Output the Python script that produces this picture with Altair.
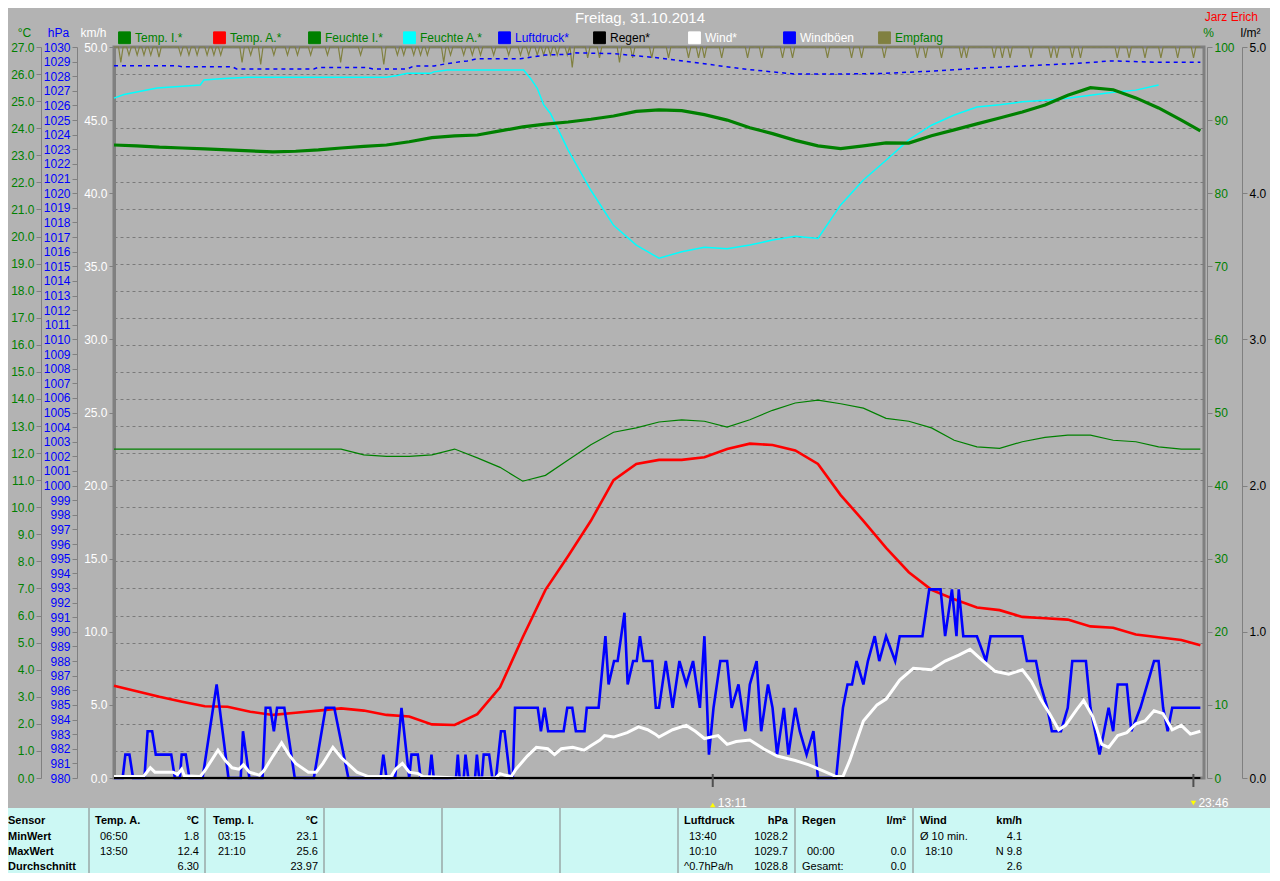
import altair as alt
import pandas as pd

FONT = "Liberation Sans"
BG = "#b3b3b3"
GRID = "#7a7a7a"
FRAME = "#808080"
CYAN_BG = "#ccf8f4"

W, H = 1090, 731
PAD = {"left": 106, "top": 39, "right": 66, "bottom": 95}
PX0, PY0 = 114, 47  # page position of the plot's top-left corner

# ---------------- values ----------------
chart_title = "Freitag, 31.10.2014"
owner_name = "Jarz Erich"

series_names = ["Temp. I.*", "Temp. A.*", "Feuchte I.*", "Feuchte A.*", "Luftdruck*",
                "Regen*", "Wind*", "Windböen", "Empfang"]
series_colors = ["#008000", "#ff0000", "#008000", "#00ffff", "#0000ff",
                 "#000000", "#ffffff", "#0000ff", "#808040"]
legend_label_colors = ["#008000", "#008000", "#008000", "#008000", "#0000ff",
                       "#000000", "#ffffff", "#ffffff", "#008000"]

# half-hourly readings (hour of day)
t_half = [i / 2 for i in range(48)] + [23.92]
temp_i = [23.38, 23.35, 23.3, 23.27, 23.24, 23.2, 23.16, 23.13, 23.15, 23.2, 23.27, 23.33,
          23.38, 23.5, 23.65, 23.72, 23.75, 23.9, 24.05, 24.15, 24.23, 24.33, 24.45, 24.62,
          24.68, 24.65, 24.5, 24.3, 24.02, 23.8, 23.55, 23.35, 23.25, 23.35, 23.46, 23.45,
          23.72, 23.94, 24.16, 24.38, 24.6, 24.86, 25.22, 25.5, 25.42, 25.12, 24.75, 24.3, 23.9]
temp_a = [3.41, 3.2, 3.0, 2.82, 2.65, 2.63, 2.45, 2.33, 2.41, 2.49, 2.57, 2.49,
          2.33, 2.27, 1.98, 1.96, 2.36, 3.35, 5.2, 6.95, 8.2, 9.5, 11.0, 11.6,
          11.75, 11.75, 11.85, 12.15, 12.35, 12.3, 12.1, 11.6, 10.45, 9.5, 8.5, 7.6,
          6.95, 6.6, 6.3, 6.2, 5.95, 5.9, 5.85, 5.6, 5.55, 5.3, 5.2, 5.1, 4.9]
hum_i = [45, 45, 45, 45, 45, 45, 45, 45, 45, 45, 45, 44.2, 44, 44, 44.2, 45, 43.8, 42.5,
         40.6, 41.4, 43.5, 45.6, 47.3, 47.9, 48.7, 49.0, 48.8, 48.0, 49.0, 50.3, 51.3, 51.7,
         51.2, 50.6, 49.2, 48.8, 47.9, 46.2, 45.3, 45.1, 46.0, 46.6, 46.9, 46.9, 46.2, 46.0,
         45.3, 45.0, 45.0]

hum_a_t = [0, 0.22, 0.95, 1.9, 1.98, 2.42, 2.95, 6.0, 6.24, 6.46,
           6.97, 7.04, 7.34, 9.02, 9.17, 9.32, 9.46, 9.61, 10.0, 10.5,
           11, 11.5, 12, 12.5, 13, 13.5, 14, 14.5, 15, 15.5,
           16, 16.5, 17, 17.5, 18, 18.5, 19, 19.5, 20, 20.5,
           21, 21.5, 22, 22.5, 23.0]
hum_a = [93.0, 93.5, 94.4, 94.8, 95.5, 95.7, 95.85, 95.85, 96.1, 96.4,
         96.4, 96.6, 96.85, 96.85, 95.7, 94.35, 92.1, 90.9, 85.9, 80.4,
         75.6, 72.9, 71.1, 72.0, 72.6, 72.4, 72.9, 73.6, 74.1, 73.8,
         78.4, 81.8, 84.5, 87.3, 89.3, 90.7, 91.8, 92.1, 92.5, 92.7,
         93.0, 93.4, 93.8, 94.1, 94.8]

press_t = [0, 1.39, 1.5, 2.6, 2.7, 4.4, 4.5, 5.58, 5.7, 6.46,
           6.6, 7.05, 7.34, 7.78, 8.0, 8.95, 9.5, 10.0, 10.17, 11.0,
           12.0, 13.0, 14.0, 15.0, 16.0, 17.0, 18.0, 19.0, 20.0, 21.0,
           22.0, 23.0, 23.92]
press = [1028.72, 1028.72, 1028.65, 1028.65, 1028.5, 1028.5, 1028.6, 1028.6, 1028.5, 1028.5,
         1028.7, 1028.7, 1028.87, 1029.05, 1029.2, 1029.2, 1029.45, 1029.5, 1029.6, 1029.55,
         1029.25, 1028.85, 1028.45, 1028.15, 1028.15, 1028.2, 1028.35, 1028.55, 1028.7,
         1028.85, 1029.05, 1028.95, 1028.95]

wind_t = [0, 0.65, 0.8, 0.9, 1.3, 1.4, 1.49, 1.55, 1.9, 2.0, 2.29, 2.45, 2.6, 2.75, 2.85,
          2.98, 3.2, 3.3, 3.5, 3.69, 3.85, 4.0, 4.28, 4.45, 4.6, 4.82, 5.0, 5.35, 5.6, 6.1,
          6.2, 6.35, 6.5, 6.7, 6.8, 7.6, 8.4, 8.5, 8.6, 8.75, 8.85, 9.1, 9.3, 9.55, 9.7, 9.85,
          10.1, 10.35, 10.5, 10.7, 10.8, 11.0, 11.3, 11.55, 11.75, 11.92, 12.0, 12.3, 12.6,
          12.8, 13.0, 13.3, 13.5, 13.7, 14.0, 14.3, 14.6, 15.0, 15.3, 15.6, 15.9, 16.05, 16.2,
          16.5, 16.8, 17.0, 17.3, 17.6, 18.0, 18.3, 18.6, 18.85, 19.1, 19.4, 19.7, 20.0, 20.2,
          20.4, 20.6, 20.8, 20.95, 21.2, 21.35, 21.55, 21.75, 21.9, 22.1, 22.3, 22.5, 22.7,
          22.9, 23.1, 23.3, 23.5, 23.7, 23.92]
wind = [0.1, 0.1, 0.7, 0.4, 0.4, 0.25, 0.6, 0.15, 0.1, 0.5, 1.9, 1.2, 0.7, 0.6, 0.9, 0.4,
        0.2, 0.5, 1.5, 2.4, 1.6, 1.0, 0.4, 0.4, 1.0, 2.1, 1.4, 0.4, 0.1, 0.1, 0.6, 1.0, 0.4,
        0.3, 0.1, 0.0, 0.0, 0.3, 0.2, 0.1, 0.6, 1.5, 2.1, 2.0, 1.6, 2.0, 2.1, 1.9, 2.2, 2.6,
        2.9, 2.8, 3.1, 3.5, 3.3, 3.0, 2.8, 3.3, 3.6, 3.2, 2.7, 2.9, 2.3, 2.5, 2.6, 2.0, 1.5,
        1.2, 0.9, 0.5, 0.1, 0.1, 1.2, 3.9, 5.0, 5.4, 6.7, 7.5, 7.4, 8.0, 8.4, 8.8, 8.1, 7.3,
        7.1, 7.4, 6.6, 5.4, 4.4, 3.3, 3.6, 4.7, 5.3, 4.2, 2.3, 2.1, 2.9, 3.1, 3.7, 3.9, 4.6,
        4.4, 3.3, 3.6, 3.0, 3.2]

gust_t = [0, 0.19, 0.25, 0.34, 0.42, 0.67, 0.74, 0.84, 0.92, 1.26,
          1.34, 1.45, 1.49, 1.58, 1.66, 1.95, 2.26, 2.52, 2.79, 2.84,
          2.98, 3.27, 3.34, 3.44, 3.52, 3.59, 3.75, 3.98, 4.40, 4.66,
          4.85, 5.16, 5.87, 5.93, 6.0, 6.19, 6.33, 6.50, 6.55, 6.69,
          6.75, 6.94, 6.99, 7.04, 7.53, 7.57, 7.61, 7.70, 7.74, 7.80,
          7.95, 7.99, 8.04, 8.10, 8.14, 8.26, 8.33, 8.41, 8.52, 8.60,
          8.72, 8.78, 8.83, 9.33, 9.40, 9.48, 9.56, 9.90, 9.98, 10.09,
          10.17, 10.36, 10.41, 10.67, 10.82, 10.89, 11.01, 11.09, 11.24, 11.31,
          11.43, 11.51, 11.58, 11.66, 11.85, 11.93,
          12.0, 12.15, 12.3, 12.45, 12.6, 12.75, 12.9, 13.0, 13.1, 13.2,
          13.35, 13.5, 13.6, 13.75, 13.9, 14.0, 14.15, 14.25, 14.4, 14.5,
          14.6, 14.75, 14.85, 15.0, 15.1, 15.25, 15.4, 15.5, 15.9, 16.05,
          16.15, 16.25, 16.35, 16.5, 16.6, 16.75, 16.85, 17.0, 17.2, 17.3,
          17.5, 17.65, 17.8, 17.95, 18.2, 18.3, 18.45, 18.55, 18.6, 18.7,
          19.0, 19.2, 19.3, 20.0, 20.1, 20.3, 20.4, 20.55, 20.65, 20.85,
          21.0, 21.1, 21.4, 21.5, 21.6, 21.7, 21.8, 21.9, 22.0, 22.1,
          22.3, 22.4, 22.6, 22.9, 23.0, 23.1, 23.2, 23.3, 23.92]
gust = [0, 0, 1.6, 1.6, 0, 0, 3.2, 3.2, 1.6, 1.6,
        0, 0, 1.6, 1.6, 0, 0, 6.4, 0, 0, 3.2,
        0, 0, 4.8, 4.8, 3.2, 4.8, 4.8, 0, 0, 4.8,
        4.8, 0, 0, 1.6, 0, 0, 4.8, 0, 1.6, 1.6,
        0, 0, 1.6, 0, 0, 1.6, 0, 0, 1.6, 0,
        0, 1.6, 0, 0, 1.6, 1.6, 0, 0, 3.2, 3.2,
        0, 0, 4.8, 4.8, 3.2, 4.8, 3.2, 3.2, 4.8, 4.8,
        3.2, 3.2, 4.8, 4.8, 9.7, 6.4, 8.0, 8.0, 11.3, 6.4,
        8.0, 8.0, 9.7, 8.0, 8.0, 4.8,
        4.8, 8.0, 4.8, 8.0, 6.4, 8.0, 4.8, 9.7, 1.6, 4.8,
        8.0, 8.0, 4.8, 6.4, 3.2, 6.4, 8.0, 3.2, 6.4, 4.8,
        1.6, 4.8, 1.6, 4.8, 3.2, 1.6, 3.2, 0, 0, 4.8,
        6.4, 6.4, 8.0, 6.4, 8.0, 9.7, 8.0, 9.7, 8.0, 9.7,
        9.7, 9.7, 9.7, 12.9, 12.9, 9.7, 12.9, 9.7, 12.9, 9.7,
        9.7, 8.0, 9.7, 9.7, 8.0, 8.0, 6.4, 4.8, 3.2, 3.2,
        4.8, 8.0, 8.0, 4.8, 3.2, 1.6, 3.2, 4.8, 3.2, 6.4,
        6.4, 3.2, 4.8, 8.0, 8.0, 4.8, 3.2, 4.8, 4.8]

# reception (Empfang): 100 % with short dips at these times, to these depths
empfang_dips = [0.15, 0.33, 0.51, 0.66, 0.81, 0.99, 1.47, 1.65, 1.83, 2.05,
                2.2, 2.35, 2.82, 3.01, 3.23, 3.52, 3.82, 4.04, 4.33, 4.7,
                4.99, 5.43, 5.94, 6.24, 6.38, 6.6, 6.75, 6.9, 7.26, 7.41,
                7.7, 7.89, 8.07, 8.36, 8.69, 8.95, 9.13, 9.32, 9.46, 9.61,
                9.76, 9.98, 10.09, 10.43, 10.69, 11.13, 11.42, 11.84, 12.21, 12.65,
                12.87, 13.0, 13.38, 13.95, 14.26, 14.72, 14.94, 15.71, 16.24, 16.46,
                16.96, 17.69, 17.87, 18.22, 18.66, 18.77, 19.38, 19.56, 19.73, 20.19,
                20.63, 20.76, 21.10, 21.28, 22.09, 22.35, 22.70, 23.05, 23.42, 23.77]
empfang_depth = [97.9, 98.9, 98.9, 98.9, 98.9, 98.6, 98.9, 98.9, 98.9, 98.9,
                 98.9, 98.9, 97.9, 98.9, 97.6, 98.9, 98.9, 98.9, 98.9, 98.9,
                 97.9, 98.9, 97.6, 98.9, 98.9, 98.9, 98.9, 98.9, 97.9, 98.9,
                 98.9, 98.9, 98.9, 98.9, 98.9, 98.9, 98.9, 98.9, 98.9, 98.9,
                 98.9, 98.9, 97.2, 98.5, 98.5, 97.9, 98.5, 98.5, 98.5, 98.5,
                 98.5, 98.5, 98.5, 98.5, 98.5, 98.5, 98.5, 98.5, 98.5, 98.5,
                 98.5, 98.5, 98.5, 98.5, 98.5, 98.5, 98.5, 98.5, 98.5, 98.5,
                 98.5, 98.5, 98.5, 98.5, 98.5, 98.5, 98.5, 98.5, 98.5, 98.5]
empfang_full = 100.0

rain_t = [0.0, 23.92]
rain = [0.0, 0.0]

marker_t = [13 + 11 / 60, 23 + 46 / 60]
marker_lbl = ["13:11", "23:46"]

# statistics table
stat_rows = ["Sensor", "MinWert", "MaxWert", "Durchschnitt"]
stat_heads = ["Temp. A.", "Temp. I.", "Luftdruck", "Regen", "Wind"]
stat_units = ["°C", "°C", "hPa", "l/m²", "km/h"]
stat_times = [["06:50", "13:50", ""], ["03:15", "21:10", ""], ["13:40", "10:10", "^0.7hPa/h"],
              ["", "00:00", "Gesamt:"], ["Ø 10 min.", "18:10", ""]]
stat_vals = [["1.8", "12.4", "6.30"], ["23.1", "25.6", "23.97"], ["1028.2", "1029.7", "1028.8"],
             ["", "0.0", "0.0"], ["4.1", "N 9.8", "2.6"]]

# ---------------- table layout (page pixels) ----------------
tbl_top = 808
tbl_row_y = [821, 837, 852, 867]
tbl_first_x = 8
tbl_block_left = [95, 213, 684, 802, 920]
tbl_block_right = [199, 318, 788, 906, 1022]
tbl_dividers = [89, 205, 324, 442, 560, 678, 795, 913]

# ---------------- frames ----------------
def frame(t, v, name):
    return pd.DataFrame({"t": t, "v": v, "s": name})

DIP_HALF = 0.05
emp_t, emp_v = [0.0], [empfang_full]
for d, low in zip(empfang_dips, empfang_depth):
    emp_t += [d - DIP_HALF, d, d + DIP_HALF]
    emp_v += [empfang_full, low, empfang_full]
emp_t.append(23.92)
emp_v.append(empfang_full)

df_emp = frame(emp_t, emp_v, "Empfang")
df_huma = frame(hum_a_t, hum_a, "Feuchte A.*")
df_press = frame(press_t, press, "Luftdruck*")
df_humi = frame(t_half, hum_i, "Feuchte I.*")
df_tempi = frame(t_half, temp_i, "Temp. I.*")
df_tempa = frame(t_half, temp_a, "Temp. A.*")
df_gust = frame(gust_t, gust, "Windböen")
df_wind = frame(wind_t, wind, "Wind*")
df_rain = frame(rain_t, rain, "Regen*")
df_mark = pd.DataFrame({"t": marker_t, "lbl": marker_lbl})

# ---------------- scales & axes ----------------
xscale = alt.Scale(domain=[0, 24], nice=False, zero=False)
X = alt.X("t:Q", scale=xscale, axis=None)
X_AXIS = alt.X("t:Q", scale=xscale, axis=alt.Axis(
    values=list(range(25)),
    labelExpr="(datum.value < 10 ? '0' : '') + datum.value + ':00'",
    labelColor="white", labelFontSize=12, labelFlush=False, labelOverlap=False,
    labelPadding=8, ticks=False, domain=False, grid=True, gridColor=GRID,
    gridDash=[3, 3], title=None))

color_scale = alt.Scale(domain=series_names, range=series_colors)


def ys(lo, hi):
    return alt.Scale(domain=[lo, hi], nice=False, zero=False)


def yaxis(orient, offset, values, fmt, color, title, tx, grid=False, **kw):
    return alt.Axis(orient=orient, offset=offset, values=values, format=fmt,
                    labelColor=color, labelOverlap=False, labelFlush=False,
                    labelFontSize=12, labelPadding=2, tickSize=5, grid=grid,
                    gridColor=GRID, gridDash=[3, 3], title=title, titleColor=color,
                    titleAngle=0, titleX=tx, titleY=-15, titleAlign="center",
                    titleBaseline="middle", titleFontSize=12, titleFontWeight="normal", **kw)


ax_c = yaxis("left", 73, list(range(28)), ".1f", "#008000", "°C", -17, grid=True)
ax_p = yaxis("left", 37, list(range(980, 1031)), "d", "#0000ff", "hPa", -19)
ax_w = yaxis("left", 0, [v * 5 for v in range(11)], ".1f", "white", "km/h", -21,
             domainWidth=3)
ax_h = yaxis("right", 3, list(range(0, 101, 10)), "d", "#008000", "%", 1)
ax_r = yaxis("right", 38, [0, 1, 2, 3, 4, 5], ".1f", "black", "l/m²", 8)

COL = alt.Color("s:N", scale=color_scale, legend=None)

label_color_expr = " : ".join(
    f"datum.label == '{n}' ? '{c}'" for n, c in zip(series_names, legend_label_colors)
) + " : 'black'"

LEGEND = alt.Legend(
    title=None, orient="none", legendX=4, legendY=-16, direction="horizontal",
    columns=9, gridAlign="all", columnPadding=13, symbolType="square", symbolSize=140,
    symbolStrokeColor="white", symbolStrokeWidth=1, symbolOpacity=1,
    labelFont=FONT, labelFontSize=12, labelOffset=4,
    labelColor={"expr": label_color_expr})


def series(df, dom, axis, x=X, **mk):
    return alt.Chart(df).mark_line(**mk).encode(
        x=x, y=alt.Y("v:Q", scale=ys(*dom), axis=axis), color=COL)


# rain as a (zero-height) area: it carries the l/m² axis and the legend
rain_area = alt.Chart(df_rain).mark_area(opacity=1).encode(
    x=X_AXIS, y=alt.Y("v:Q", scale=ys(0, 5), axis=ax_r),
    color=alt.Color("s:N", scale=color_scale, legend=LEGEND))

l_emp = series(df_emp, (0, 100), None, strokeWidth=1.2)
l_huma = series(df_huma, (0, 100), None, strokeWidth=1.5)
l_press = series(df_press, (980, 1030), ax_p, strokeWidth=1.5, strokeDash=[4, 4])
l_humi = series(df_humi, (0, 100), ax_h, strokeWidth=1.2)
l_tempi = series(df_tempi, (0, 27), ax_c, strokeWidth=3.2)
l_tempa = series(df_tempa, (0, 27), None, strokeWidth=2.6)
l_gust = series(df_gust, (0, 50), ax_w, strokeWidth=2.6)
l_wind = series(df_wind, (0, 50), None, strokeWidth=3)
rain_line = series(df_rain, (0, 5), None, strokeWidth=2)

mark_tick = alt.Chart(df_mark).mark_rule(color="#505050", strokeWidth=2).encode(
    x=X, y=alt.value(727), y2=alt.value(740))
mark_up = alt.Chart(df_mark.iloc[[0]]).mark_point(
    shape="triangle-up", filled=True, color="#ffff00", size=30, opacity=1).encode(
    x=X, y=alt.value(758))
mark_down = alt.Chart(df_mark.iloc[[1]]).mark_point(
    shape="triangle-down", filled=True, color="#ffff00", size=30, opacity=1).encode(
    x=X, y=alt.value(756))
mark_txt = alt.Chart(df_mark).mark_text(
    align="left", baseline="middle", dx=5, color="white", fontSize=12, font=FONT).encode(
    x=X, y=alt.value(756), text="lbl:N")

title_txt = alt.Chart(pd.DataFrame({"txt": [chart_title]})).mark_text(
    align="center", baseline="middle", color="white", fontSize=15, font=FONT).encode(
    x=alt.value(640 - PX0), y=alt.value(18 - PY0), text="txt:N")
owner = alt.Chart(pd.DataFrame({"txt": [owner_name]})).mark_text(
    align="right", baseline="middle", color="#ff0000", fontSize=12, font=FONT).encode(
    x=alt.value(1258 - PX0), y=alt.value(17 - PY0), text="txt:N")

# ---------------- statistics table ----------------
tbl_bg = alt.Chart(pd.DataFrame({"a": [0]})).mark_rect(color=CYAN_BG, opacity=1).encode(
    x=alt.value(-PX0), x2=alt.value(1280 - PX0),
    y=alt.value(tbl_top - PY0), y2=alt.value(900 - PY0))
tbl_div = alt.Chart(pd.DataFrame({"x": [d - PX0 for d in tbl_dividers]})).mark_rule(
    color="#808080", strokeWidth=1).encode(
    x=alt.X("x:Q", scale=None), y=alt.value(tbl_top - PY0), y2=alt.value(900 - PY0))

bold_left, bold_right, norm_left, norm_right = [], [], [], []
for r, name in enumerate(stat_rows):
    bold_left.append((name, tbl_first_x, tbl_row_y[r]))
for b in range(len(stat_heads)):
    bold_left.append((stat_heads[b], tbl_block_left[b], tbl_row_y[0]))
    bold_right.append((stat_units[b], tbl_block_right[b], tbl_row_y[0]))
    for r in range(3):
        tt = stat_times[b][r]
        if tt:
            indent = 5 if tt[0].isdigit() else 0
            norm_left.append((tt, tbl_block_left[b] + indent, tbl_row_y[r + 1]))
        vv = stat_vals[b][r]
        if vv:
            norm_right.append((vv, tbl_block_right[b], tbl_row_y[r + 1]))


def tbl_text(rows, align, weight):
    df = pd.DataFrame({"txt": [r[0] for r in rows],
                       "x": [r[1] - PX0 for r in rows],
                       "y": [r[2] - PY0 for r in rows]})
    return alt.Chart(df).mark_text(align=align, baseline="middle", fontSize=11,
                                   fontWeight=weight, color="black", font=FONT).encode(
        x=alt.X("x:Q", scale=None), y=alt.Y("y:Q", scale=None), text="txt:N")


tbl_layers = [tbl_text(bold_left, "left", "bold"), tbl_text(bold_right, "right", "bold"),
              tbl_text(norm_left, "left", "normal"), tbl_text(norm_right, "right", "normal")]

chart = alt.layer(
    rain_area, l_emp, l_huma, l_press, l_humi, l_tempi, l_tempa, l_gust, l_wind, rain_line,
    mark_tick, mark_up, mark_down, mark_txt, title_txt, owner, tbl_bg, tbl_div, *tbl_layers
).resolve_scale(y="independent").properties(
    width=W, height=H, padding=PAD, autosize=alt.AutoSizeParams(type="none")
).configure(background=BG, font=FONT).configure_view(
    stroke=FRAME, strokeWidth=3
).configure_axis(
    labelFont=FONT, titleFont=FONT, tickColor=FRAME, domainColor=FRAME
)

chart.save("out.html", embed_options={"renderer": "svg", "actions": False})
